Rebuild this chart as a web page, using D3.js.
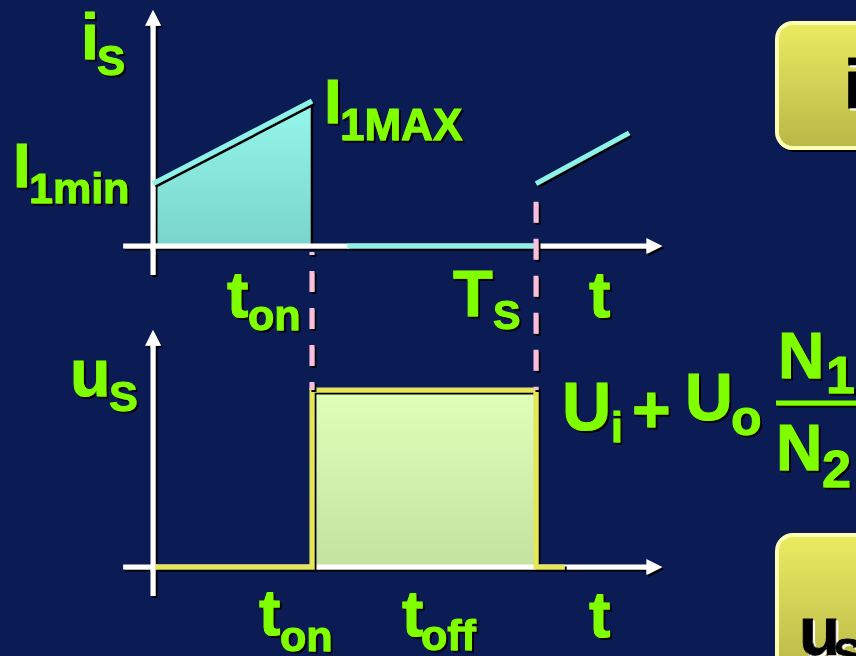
<!DOCTYPE html>
<html>
<head>
<meta charset="utf-8">
<script src="https://cdn.jsdelivr.net/npm/d3@7"></script>
<style>
  html, body { margin: 0; padding: 0; background: #0b1c55; }
  svg { display: block; }
</style>
</head>
<body>
<svg id="chart"></svg>
<script>
// switching times (fraction of one period T_S)
const timeMarks = [0.415, 1.0];           // t_on, T_S
// primary current i_S (relative to I_1MAX)
const iRamp1 = [[0, 0.43], [0.415, 1.0]];
const iZero = [[0.507, 0], [1.0, 0]];
const iRamp2 = [[1.0, 0.43], [1.243, 0.78]];
// switch voltage u_S (relative to Ui + Uo*N1/N2)
const uWave = [[0.005, 0], [0.415, 0], [0.415, 1], [1.0, 1], [1.0, 0], [1.075, 0]];
// axis extents in data units
const tAxis = [-0.078, 1.33];
const iAxis = [-0.2, 1.63];
const uAxis = [-0.164, 1.34];

const width = 856, height = 656;
const green = '#80ff00';
const font = '"Liberation Sans", Arial, sans-serif';

const svg = d3.select('#chart')
    .attr('width', width)
    .attr('height', height);

svg.append('rect')
    .attr('width', width)
    .attr('height', height)
    .attr('fill', '#0b1c55');

const defs = svg.append('defs');

// drop shadows (user space so flat lines keep them)
function shadow(id, color, d) {
    const f = defs.append('filter').attr('id', id)
        .attr('filterUnits', 'userSpaceOnUse')
        .attr('x', 0).attr('y', 0).attr('width', width).attr('height', height);
    f.append('feDropShadow')
        .attr('dx', d).attr('dy', d)
        .attr('stdDeviation', 0.4)
        .attr('flood-color', color)
        .attr('flood-opacity', 1);
}
shadow('sh', '#000', 2);
shadow('shw', '#fff', 2);

function grad(id, top, bottom) {
    const g = defs.append('linearGradient').attr('id', id)
        .attr('x1', 0).attr('y1', 0).attr('x2', 0).attr('y2', 1);
    g.append('stop').attr('offset', '0%').attr('stop-color', top);
    g.append('stop').attr('offset', '100%').attr('stop-color', bottom);
}
grad('gI', '#95f6ec', '#79d5cb');
grad('gU', '#e0ffb8', '#c4e2a0');
grad('gBox', '#ebeb62', '#b8b847');

const x = d3.scaleLinear().domain([0, 1]).range([153, 536]);
const yI = d3.scaleLinear().domain([0, 1]).range([246, 101]);
const yU = d3.scaleLinear().domain([0, 1]).range([567, 390]);

function drawAxes(y, yExt) {
    const g = svg.append('g').attr('filter', 'url(#sh)');
    const x0 = x(0), y0 = y(0);
    const xEnd = x(tAxis[1]), yTop = y(yExt[1]);
    g.append('line')
        .attr('x1', x0).attr('x2', x0)
        .attr('y1', y(yExt[0])).attr('y2', yTop + 14)
        .attr('stroke', '#fff').attr('stroke-width', 5);
    g.append('path')
        .attr('d', `M${x0},${yTop} L${x0 + 8},${yTop + 16} L${x0 - 8},${yTop + 16} Z`)
        .attr('fill', '#fff');
    g.append('line')
        .attr('x1', x(tAxis[0])).attr('x2', xEnd - 14)
        .attr('y1', y0).attr('y2', y0)
        .attr('stroke', '#fff').attr('stroke-width', 5);
    g.append('path')
        .attr('d', `M${xEnd},${y0} L${xEnd - 16},${y0 - 8} L${xEnd - 16},${y0 + 8} Z`)
        .attr('fill', '#fff');
}

// ---- upper plot: i_S ----
const area = d3.area().x(d => x(d[0])).y0(yI(0)).y1(d => yI(d[1]) + 4);
svg.append('path')
    .datum(iRamp1)
    .attr('d', area)
    .attr('fill', 'url(#gI)');
svg.append('line')
    .attr('x1', x(timeMarks[0])).attr('x2', x(timeMarks[0]))
    .attr('y1', yI(iRamp1[1][1]) + 4).attr('y2', yI(0) + 2)
    .attr('stroke', '#000').attr('stroke-width', 2.5);

drawAxes(yI, iAxis);

const line = (y) => d3.line().x(d => x(d[0])).y(d => y(d[1]));
[iRamp1, iZero, iRamp2].forEach(seg => {
    svg.append('path')
        .datum(seg)
        .attr('d', line(yI))
        .attr('fill', 'none')
        .attr('stroke', '#8ef2e8')
        .attr('stroke-width', 5)
        .attr('filter', 'url(#sh)');
});

// ---- lower plot: u_S ----
svg.append('rect')
    .attr('x', x(timeMarks[0]))
    .attr('y', yU(1))
    .attr('width', x(timeMarks[1]) - x(timeMarks[0]))
    .attr('height', yU(0) - yU(1))
    .attr('fill', 'url(#gU)');

drawAxes(yU, uAxis);

svg.append('path')
    .datum(uWave)
    .attr('d', line(yU))
    .attr('fill', 'none')
    .attr('stroke', '#e6e65a')
    .attr('stroke-width', 5)
    .attr('filter', 'url(#sh)');

// dashed switching markers
svg.append('g')
    .attr('filter', 'url(#sh)')
    .selectAll('line')
    .data(timeMarks)
    .join('line')
    .attr('x1', d => x(d)).attr('x2', d => x(d))
    .attr('y1', (d, i) => i === 0 ? yI(0) + 6 : yI(iRamp2[0][1]) + 18)
    .attr('y2', yU(1))
    .attr('stroke', '#f8bedc')
    .attr('stroke-width', 5)
    .attr('stroke-dasharray', '21,16')
    .attr('stroke-dashoffset', (d, i) => i === 0 ? 18 : 0);

// ---- labels ----
function label(parts, color, filt) {
    const g = svg.append('g').attr('filter', `url(#${filt || 'sh'})`);
    parts.forEach(p => {
        g.append('text')
            .attr('x', p[1]).attr('y', p[2])
            .attr('font-size', p[3])
            .attr('font-weight', 'bold')
            .attr('font-family', font)
            .attr('fill', color || green)
            .attr('stroke', color || green)
            .attr('stroke-width', 1)
            .text(p[0]);
    });
}

label([['i', 81, 59, 64], ['S', 97, 75, 42]]);
label([['I', 13, 187, 63], ['1min', 29, 203, 43]]);
label([['I', 324, 123, 63], ['1MAX', 340, 140, 44]]);
label([['t', 227, 317, 64], ['on', 248, 330, 43]]);
label([['T', 453, 316, 65], ['S', 493, 329, 41]]);
label([['t', 589, 317, 64]]);
label([['u', 70, 396, 66], ['S', 109, 411, 43]]);
label([['U', 562, 430, 68], ['i', 611, 442, 42], ['+', 632, 432, 66],
       ['U', 685, 420, 66], ['o', 731, 435, 50],
       ['N', 778, 378, 64], ['1', 826, 393, 52],
       ['N', 776, 470, 64], ['2', 822, 487, 52]]);
svg.append('line')
    .attr('x1', 776).attr('x2', 860)
    .attr('y1', 403).attr('y2', 403)
    .attr('stroke', green).attr('stroke-width', 5)
    .attr('filter', 'url(#sh)');
label([['t', 259, 635, 64], ['on', 280, 651, 43]]);
label([['t', 402, 636, 64], ['off', 421, 650, 43]]);
label([['t', 589, 637, 64]]);

// ---- side boxes ----
[[777, 23, 125], [777, 535, 140]].forEach(b => {
    svg.append('rect')
        .attr('x', b[0]).attr('y', b[1])
        .attr('width', 120).attr('height', b[2])
        .attr('rx', 16)
        .attr('fill', 'url(#gBox)')
        .attr('stroke', '#ffffb4')
        .attr('stroke-width', 4)
        .attr('filter', 'url(#sh)');
});
label([['i', 844, 108, 68]], '#000', 'shw');
label([['u', 799, 655, 68], ['S', 833, 670, 44]], '#000', 'shw');
</script>
</body>
</html>
